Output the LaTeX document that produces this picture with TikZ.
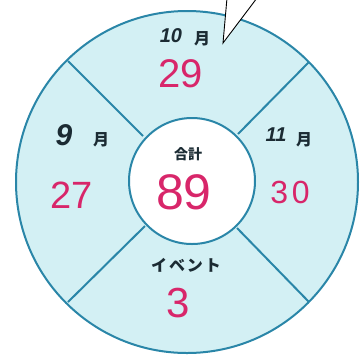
\documentclass[tikz,border=0pt]{standalone}
\usepackage{fontspec}
\newfontfamily\jp{Noto Sans CJK JP}
\newfontfamily\num{Liberation Sans}
\definecolor{ring}{HTML}{2A86A8}
\definecolor{sea}{HTML}{D3F0F4}
\definecolor{pinkn}{HTML}{D8266A}
\definecolor{ink}{HTML}{1B2B33}
\begin{document}
\begin{tikzpicture}[x=1pt,y=-1pt,
  ringline/.style={draw=ring,line width=2pt},
  val/.style={text=pinkn,inner sep=0pt},
  mon/.style={text=ink,inner sep=0pt},
  kj/.style={text=ink,inner sep=0pt}]
\useasboundingbox (0,0) rectangle (361,360);
\node[circle,ringline,fill=sea,minimum size=342pt,inner sep=0pt] (outer) at (187,182) {};
\coordinate (o1) at (68,61);   \coordinate (i1) at (143,136);
\coordinate (o2) at (309,62);  \coordinate (i2) at (238,134);
\coordinate (o3) at (68,302);  \coordinate (i3) at (145,226);
\coordinate (o4) at (309,302); \coordinate (i4) at (237,228);
\draw[ringline] (o1) -- (i1);
\draw[ringline] (o2) -- (i2);
\draw[ringline] (o3) -- (i3);
\draw[ringline] (o4) -- (i4);
\node[circle,ringline,fill=white,minimum size=126pt,inner sep=0pt] (inner) at (192,181) {};
% labels
\node[mon,font={\num\bfseries\itshape\fontsize{20}{20}\selectfont}] (m10) at (171,36) {10};
\node[kj,font={\jp\bfseries\fontsize{16}{16}\selectfont}] (y10) at (202,39) {月};
\node[val,font={\num\fontsize{40}{40}\selectfont}] (v10) at (181,74) {29};
\node[mon,font={\num\bfseries\itshape\fontsize{30}{30}\selectfont}] (m9) at (64,135) {9};
\node[kj,font={\jp\bfseries\fontsize{16}{16}\selectfont}] (y9) at (101,140) {月};
\node[val,font={\num\fontsize{38}{38}\selectfont}] (v9) at (72,195) {27};
\node[mon,font={\num\bfseries\itshape\fontsize{20}{20}\selectfont}] (m11) at (276,135) {11};
\node[kj,font={\jp\bfseries\fontsize{16}{16}\selectfont}] (y11) at (304,140) {月};
\node[val,font={\num\fontsize{32}{32}\selectfont\addfontfeature{LetterSpace=12}}] (v11) at (290,192) {30};
\node[kj,font={\jp\bfseries\fontsize{14}{14}\selectfont}] (tl) at (188,154) {合計};
\node[val,font={\num\fontsize{50}{50}\selectfont}] (tv) at (184,192) {89};
\node[kj,font={\jp\bfseries\fontsize{16}{16}\selectfont\addfontfeature{LetterSpace=12}}] (ev) at (186,265) {イベント};
\node[val,font={\num\fontsize{42}{42}\selectfont}] (evv) at (178,303) {3};
% pointer
\coordinate (tip) at (223,43);
\coordinate (pl) at (227,-2);
\coordinate (pr) at (257,-2);
\fill[white] (pl) -- (tip) -- (pr) -- cycle;
\draw[black,line width=0.9pt] (pl) -- (tip) -- (pr);
\end{tikzpicture}
\end{document}
